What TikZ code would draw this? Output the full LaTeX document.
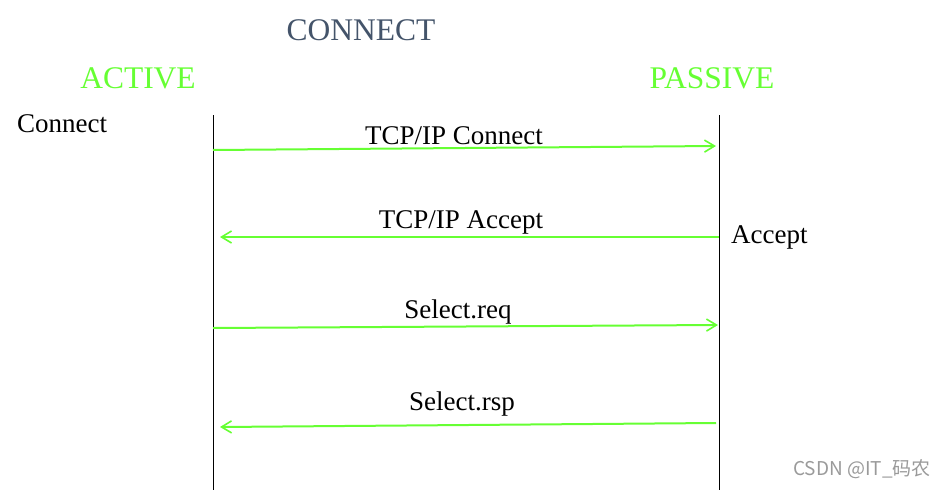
\documentclass[tikz,border=0pt]{standalone}
\usepackage{fontspec}
\setmainfont{Liberation Serif}
\newfontfamily\cjkfont{Noto Sans CJK SC}
\usetikzlibrary{arrows.meta}
\definecolor{msggreen}{HTML}{66FF33}
\definecolor{titlegray}{HTML}{44546A}
\definecolor{wmgray}{HTML}{9A9A9A}
\begin{document}
\begin{tikzpicture}[x=1pt,y=-1pt,
  lifeline/.style={draw=black,line width=1pt},
  msg/.style={draw=msggreen,line width=2pt,-{Straight Barb[length=10pt,width=12pt,line width=1.6pt]}},
  lbl/.style={anchor=base,inner sep=0pt,font=\fontsize{27}{29}\selectfont},
  head/.style={anchor=base,inner sep=0pt,font=\fontsize{31.5}{33}\selectfont}]
\useasboundingbox (0,0) rectangle (946,490);
% titles
\node[head,text=titlegray] (title) at (361,40) {CONNECT};
\node[head,text=msggreen] (active) at (138,88) {ACTIVE};
\node[head,text=msggreen] (passive) at (712,88) {PASSIVE};
% side labels
\node[lbl,anchor=base west] (conn) at (17,132) {Connect};
\node[lbl,anchor=base west] (acc) at (731,243) {Accept};
% lifelines
\coordinate (lt) at (213,115);
\coordinate (lb) at (213,490);
\coordinate (rt) at (719,115);
\coordinate (rb) at (719,490);
\draw[lifeline] (lt) -- (lb);
\draw[lifeline] (rt) -- (rb);
% message endpoints
\coordinate (m1s) at (213,150);
\coordinate (m1e) at (716,146);
\coordinate (m2s) at (719,237);
\coordinate (m2e) at (220,237);
\coordinate (m3s) at (213,328);
\coordinate (m3e) at (718,325);
\coordinate (m4s) at (716,423);
\coordinate (m4e) at (220,427);
\draw[msg] (m1s) -- (m1e);
\draw[msg] (m2s) -- (m2e);
\draw[msg] (m3s) -- (m3e);
\draw[msg] (m4s) -- (m4e);
% message labels
\node[lbl] (l1) at (454,144) {TCP/IP Connect};
\node[lbl] (l2) at (461,228) {TCP/IP Accept};
\node[lbl] (l3) at (458,318) {Select.req};
\node[lbl] (l4) at (462,410) {Select.rsp};
% watermark
\node[anchor=base west,inner sep=0pt,text=wmgray,font=\cjkfont\fontsize{19}{21}\selectfont] (wm) at (793,475) {CSDN @IT\_码农};
\end{tikzpicture}
\end{document}
